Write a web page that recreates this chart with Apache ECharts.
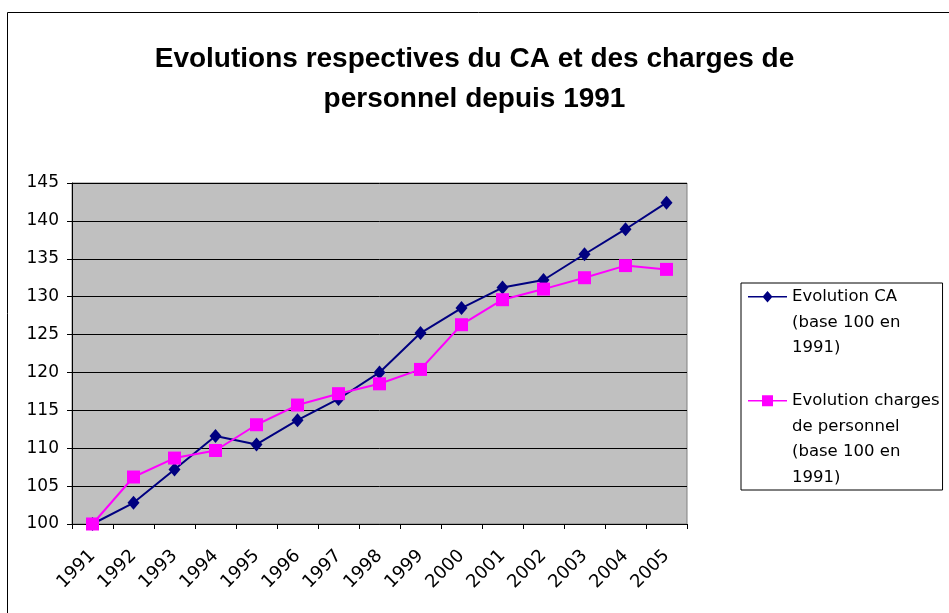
<!DOCTYPE html>
<html lang="fr">
<head>
  <meta charset="UTF-8">
  <title>Evolutions CA et charges de personnel</title>
  <script src="https://cdn.jsdelivr.net/npm/echarts@6/dist/echarts.min.js"></script>
  <style>
    html, body {
      margin: 0;
      padding: 0;
      background: #fff;
    }

    #main {
      width: 949px;
      height: 613px;
    }
  </style>
</head>
<body>
<div id="main"></div>
<script>
  // donnees
  var annees = ['1991', '1992', '1993', '1994', '1995', '1996', '1997', '1998',
    '1999', '2000', '2001', '2002', '2003', '2004', '2005'];
  var evolutionCA = [100, 102.8, 107.2, 111.6, 110.5, 113.7, 116.5, 120.0,
    125.2, 128.5, 131.2, 132.2, 135.6, 138.9, 142.4];
  var evolutionCharges = [100, 106.2, 108.7, 109.7, 113.1, 115.7, 117.2, 118.5,
    120.4, 126.3, 129.6, 131.0, 132.5, 134.1, 133.6];
  var nomCA = 'Evolution CA\n(base 100 en\n1991)';
  var nomCharges = 'Evolution charges\nde personnel\n(base 100 en\n1991)';

  var police = '"DejaVu Sans", Verdana, sans-serif';
  var hauteurLigne = 25.5;

  // symboles de legende : trait + marqueur cales sur la 1re ligne du texte
  // (petits triangles aux coins pour fixer la boite 39 x 102)
  var coins = 'M0,0 L0.01,0 L0,0.01 Z M39,102 L38.99,102 L39,101.99 Z ';
  var iconeCA = 'path://' + coins +
    'M0,12 L39,12 L39,13.5 L0,13.5 Z M19.5,7 L24.5,12.75 L19.5,18.5 L14.5,12.75 Z';
  var iconeCharges = 'path://' + coins +
    'M0,12 L39,12 L39,13.5 L0,13.5 Z M14,7.25 L25,7.25 L25,18.25 L14,18.25 Z';

  var myChart = echarts.init(document.getElementById('main'));

  var option = {
    backgroundColor: '#fff',
    animation: false,
    title: {
      text: 'Evolutions respectives du CA et des charges de\npersonnel depuis 1991',
      left: 'center',
      top: 39,
      padding: [0, 14, 0, 0],
      textStyle: {
        fontFamily: '"Liberation Sans", Arial, sans-serif',
        fontWeight: 'bold',
        fontSize: 28,
        lineHeight: 40,
        color: '#000'
      }
    },
    graphic: [{
      // cadre exterieur du graphique
      type: 'rect',
      shape: {x: 7.5, y: 12.5, width: 1000, height: 700},
      style: {fill: 'none', stroke: '#000', lineWidth: 1},
      silent: true,
      z: -1
    }],
    legend: {
      orient: 'vertical',
      left: 741,
      top: 283,
      padding: [1, 3, 0, 7],
      itemWidth: 39,
      itemHeight: 102,
      itemGap: 2,
      symbolKeepAspect: true,
      backgroundColor: '#fff',
      borderColor: '#000',
      borderWidth: 1,
      borderRadius: 0,
      itemStyle: {borderWidth: 0},
      textStyle: {
        fontFamily: police,
        fontSize: 16.5,
        lineHeight: hauteurLigne,
        color: '#000'
      },
      formatter: function (name) {
        // ligne vide pour que les deux entrees aient 4 lignes
        return name === nomCA ? name + '\n ' : name;
      },
      data: [
        {name: nomCA, icon: iconeCA},
        {name: nomCharges, icon: iconeCharges}
      ]
    },
    grid: {
      left: 72,
      top: 183,
      right: 262,
      bottom: 89,
      show: true,
      backgroundColor: '#C0C0C0',
      borderColor: '#808080',
      borderWidth: 1
    },
    xAxis: {
      type: 'category',
      data: annees,
      boundaryGap: true,
      axisLine: {lineStyle: {color: '#000', width: 1}},
      axisTick: {show: true, length: 5, lineStyle: {color: '#000'}},
      axisLabel: {
        rotate: 45,
        margin: 29,
        fontFamily: police,
        fontSize: 18,
        color: '#000'
      },
      splitLine: {show: false}
    },
    yAxis: {
      type: 'value',
      min: 100,
      max: 145,
      interval: 5,
      axisLine: {show: true, lineStyle: {color: '#000', width: 1}},
      axisTick: {show: true, length: 5, lineStyle: {color: '#000'}},
      axisLabel: {
        margin: 13,
        fontFamily: police,
        fontSize: 17,
        color: '#000'
      },
      splitLine: {show: true, lineStyle: {color: '#000', width: 1}}
    },
    series: [
      {
        name: nomCA,
        type: 'line',
        data: evolutionCA,
        symbol: 'diamond',
        symbolSize: [12, 14],
        lineStyle: {color: '#000080', width: 2},
        itemStyle: {color: '#000080', borderWidth: 0}
      },
      {
        name: nomCharges,
        type: 'line',
        data: evolutionCharges,
        symbol: 'rect',
        symbolSize: 13,
        lineStyle: {color: '#FF00FF', width: 2},
        itemStyle: {color: '#FF00FF', borderWidth: 0}
      }
    ]
  };

  myChart.setOption(option);
</script>
</body>
</html>
